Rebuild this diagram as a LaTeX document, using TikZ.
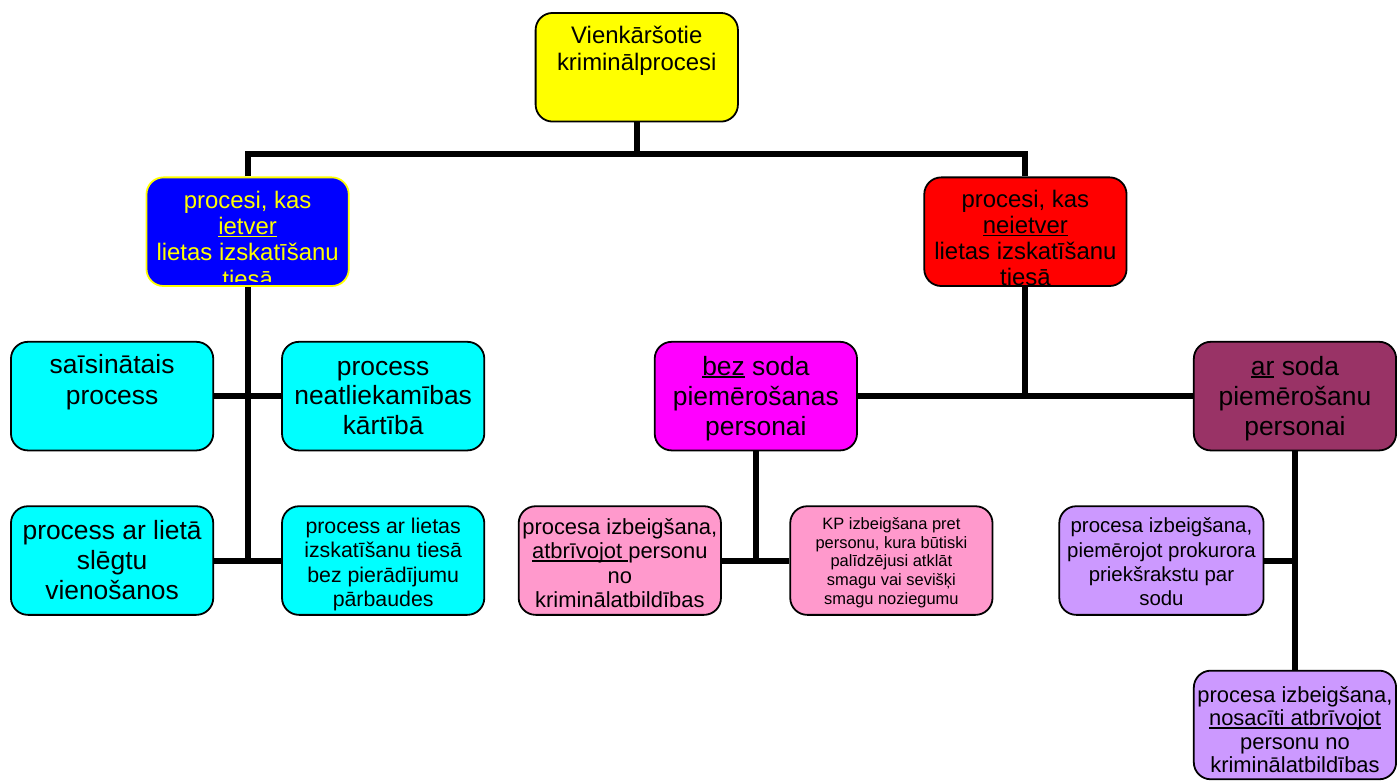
\documentclass[tikz,border=0pt]{standalone}
\usepackage{fontspec}
\setmainfont{Liberation Sans}
\pgfdeclarelayer{bg}
\pgfsetlayers{bg,main}
\definecolor{cyanbox}{HTML}{00FFFF}
\definecolor{yellowbox}{HTML}{FFFF00}
\definecolor{bluebox}{HTML}{0000FF}
\definecolor{redbox}{HTML}{FF0000}
\definecolor{magbox}{HTML}{FF00FF}
\definecolor{plumbox}{HTML}{993366}
\definecolor{pinkbox}{HTML}{FF99CC}
\definecolor{lilacbox}{HTML}{CC99FF}
\newcommand\setfs[2]{\fontsize{#1}{#2}\selectfont}
\newcommand\ts{\rule{0pt}{0.8em}}
\newsavebox\myulbox
\newcommand\myul[1]{\leavevmode\sbox\myulbox{#1}\rlap{\rule[-2.8pt]{\wd\myulbox}{1.7pt}}\usebox\myulbox}
\tikzset{
  box/.style={draw=black, line width=1.8pt, rounded corners=17pt, inner sep=0pt,
    minimum width=203pt, minimum height=109pt},
  txt/.style={anchor=north, inner sep=0pt, align=center},
  conn/.style={line width=6pt, draw=black},
}
\begin{document}
\begin{tikzpicture}[x=1pt, y=-1pt]
\begin{pgfonlayer}{bg}
\path[use as bounding box, fill=white] (0,0) rectangle (1397,778);
\end{pgfonlayer}

% boxes
\node[box, fill=yellowbox] (top) at (639,67.5) {};
\node[box, fill=bluebox, draw=yellowbox] (blue) at (248.5,232.5) {};
\node[box, fill=redbox] (red) at (1029,232.5) {};
\node[box, fill=cyanbox] (sais) at (112.5,397.5) {};
\node[box, fill=cyanbox] (neat) at (384.5,397.5) {};
\node[box, fill=cyanbox] (lieta) at (112.5,562.5) {};
\node[box, fill=cyanbox] (bezp) at (384.5,562.5) {};
\node[box, fill=magbox] (bez) at (758.5,397.5) {};
\node[box, fill=plumbox] (ar) at (1299.5,397.5) {};
\node[box, fill=pinkbox] (atbr) at (622,562.5) {};
\node[box, fill=pinkbox] (kp) at (894.5,562.5) {};
\node[box, fill=lilacbox, minimum width=205pt] (prok) at (1165.5,562.5) {};
\node[box, fill=lilacbox] (nosac) at (1299.5,727.5) {};

% texts
\node[txt, font=\setfs{24}{27}] (ttop) at (639,24.7) {\ts Vienkāršotie\\kriminālprocesi};
\begin{scope}
\clip (150,180) rectangle (347,282);
\node[txt, font=\setfs{24}{26.3}, text=yellowbox] (tblue) at (248.5,189.7)
  {\ts procesi, kas\\\myul{ietver}\\lietas izskatīšanu\\tiesā};
\end{scope}
\node[txt, font=\setfs{24}{26}] (tred) at (1029,189)
  {\ts procesi, kas\\\myul{neietver}\\lietas izskatīšanu\\tiesā};
\node[txt, font=\setfs{26.5}{30.5}] (tsais) at (112.5,353.6) {\ts saīsinātais\\process};
\node[txt, font=\setfs{26.5}{30}] (tneat) at (384.5,355) {\ts process\\neatliekamības\\kārtībā};
\node[txt, font=\setfs{26.5}{30}] (tlieta) at (112.5,520.3) {\ts process ar lietā\\slēgtu\\vienošanos};
\node[txt, font=\setfs{21.4}{24.6}] (tbezp) at (384.5,517.8)
  {\ts process ar lietas\\izskatīšanu tiesā\\bez pierādījumu\\pārbaudes};
\node[txt, font=\setfs{26.5}{30}] (tbez) at (758.5,355.3)
  {\ts{}\myul{bez}{} soda\\piemērošanas\\personai};
\node[txt, font=\setfs{26.5}{30}] (tar) at (1299.5,355.3)
  {\ts{}\myul{ar}{} soda\\piemērošanu\\personai};
\node[txt, font=\setfs{22}{24.6}] (tatbr) at (622,518.5)
  {\ts procesa izbeigšana,\\\myul{atbrīvojot\ }personu\\no\\kriminālatbildības};
\node[txt, font=\setfs{16.5}{18.8}] (tkp) at (894.5,517.9)
  {\ts KP izbeigšana pret\\personu, kura būtiski\\palīdzējusi atklāt\\smagu vai sevišķi\\smagu noziegumu};
\node[txt, font=\setfs{20.5}{24.5}] (tprok) at (1165.5,517.9)
  {\ts procesa izbeigšana,\\piemērojot prokurora\\priekšrakstu par\\sodu};
\node[txt, font=\setfs{22}{23.4}] (tnosac) at (1299.5,687.2)
  {\ts procesa izbeigšana,\\\myul{nosacīti atbrīvojot}\\personu no\\kriminālatbildības};

% connectors
\coordinate (hmid) at (639,155);
\coordinate (jleft) at (248.5,562.5);
\coordinate (jbez) at (758.5,562.5);
\coordinate (jred) at (1029,397.5);
\coordinate (jar) at (1299.5,562.5);
\begin{pgfonlayer}{bg}
\draw[conn] (top.south) -- (hmid);
\draw[conn] (blue.north) |- (hmid) -| (red.north);
\draw[conn, line cap=rect] (blue.south) -- (jleft);
\draw[conn] (sais.east) -- (neat.west);
\draw[conn] (lieta.east) -- (bezp.west);
\draw[conn, line cap=rect] (red.south) -- (jred);
\draw[conn] (bez.east) -- (ar.west);
\draw[conn, line cap=rect] (bez.south) -- (jbez);
\draw[conn] (atbr.east) -- (kp.west);
\draw[conn] (ar.south) -- (nosac.north);
\draw[conn] (prok.east) -- (jar);
\end{pgfonlayer}
\end{tikzpicture}
\end{document}
